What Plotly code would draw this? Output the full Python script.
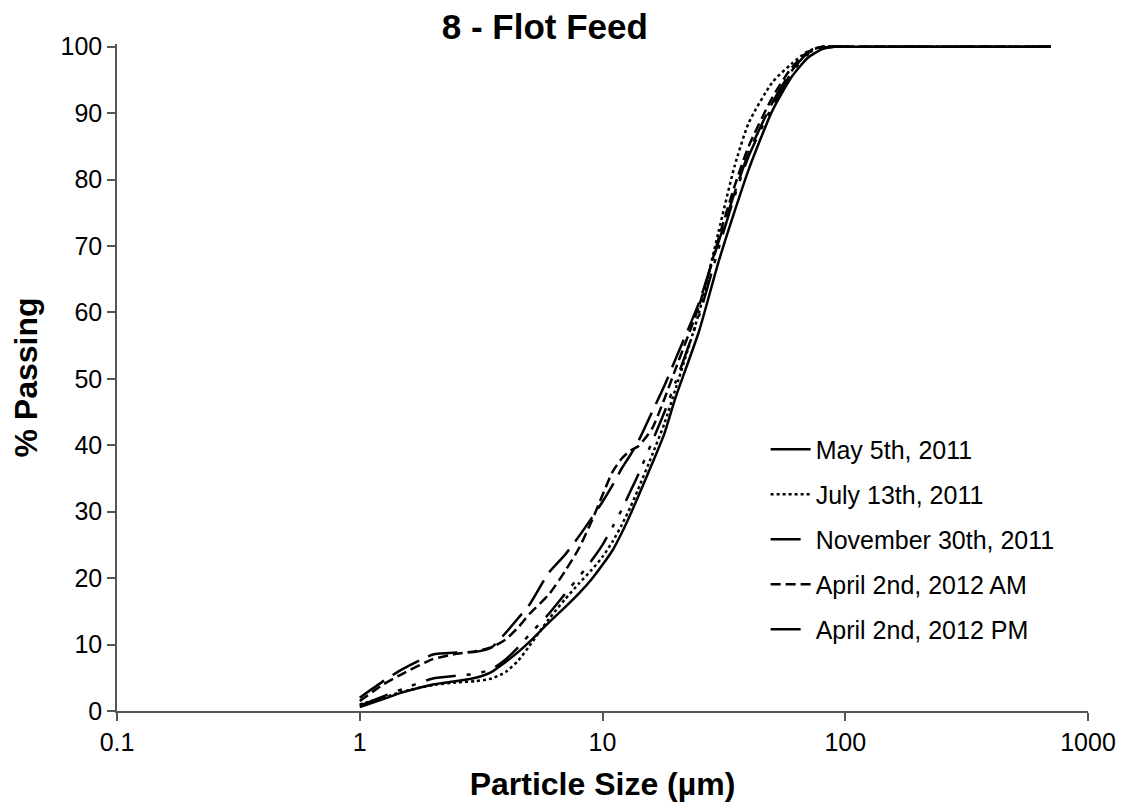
import plotly.graph_objects as go

# ---- data ----
sizes = [1, 1.25, 1.5, 2, 2.5, 3, 3.5, 4, 4.5, 5, 6, 7, 8, 9, 10, 11, 12, 13, 14,
         16, 18, 20, 25, 30, 35, 40, 50, 60, 70, 80, 90, 100, 200, 400, 704]

may_2011 = [0.6, 1.8, 2.8, 4.0, 4.5, 5.0, 5.9, 7.4, 8.9, 10.4, 13.3, 15.6, 17.7, 19.8, 22.0,
            24.2, 26.8, 29.5, 32.2, 37.2, 41.8, 47.2, 57.2, 67.5, 75.2, 81.5, 90.3, 95.4,
            98.3, 99.6, 100, 100, 100, 100, 100]
july_2011 = [1.0, 2.0, 2.9, 3.9, 4.3, 4.5, 4.9, 5.9, 7.6, 9.8, 13.8, 16.8, 19.2, 21.2, 23.2,
             25.5, 28.0, 30.6, 33.3, 38.5, 43.3, 48.5, 60.0, 72.0, 82.0, 88.5, 94.6, 97.4,
             99.3, 100, 100, 100, 100, 100, 100]
nov_2011 = [0.8, 2.2, 3.3, 4.9, 5.3, 5.6, 6.3, 7.8, 9.6, 11.5, 14.6, 17.6, 20.2, 22.6, 25.0,
            27.7, 30.3, 33.0, 35.5, 40.5, 45.0, 49.5, 59.5, 69.5, 77.5, 83.5, 91.0, 96.0,
            98.8, 99.8, 100, 100, 100, 100, 100]
apr_2012_am = [1.5, 4.0, 5.6, 7.8, 8.6, 9.0, 9.6, 10.8, 12.6, 14.6, 17.5, 21.0, 24.5, 28.5, 32.5,
               36.0, 38.0, 39.2, 39.8, 42.5, 47.0, 51.5, 61.0, 71.0, 79.0, 85.0, 92.3, 96.8,
               99.2, 100, 100, 100, 100, 100, 100]
apr_2012_pm = [2.0, 4.5, 6.3, 8.5, 8.8, 8.9, 9.6, 11.8, 14.0, 16.0, 20.8, 23.5, 26.3, 29.0, 31.5,
               34.0, 36.5, 38.5, 40.5, 45.0, 49.0, 53.0, 61.5, 70.5, 78.0, 84.0, 91.5, 96.3,
               99.0, 99.8, 100, 100, 100, 100, 100]

series_names = ["May 5th, 2011", "July 13th, 2011", "November 30th, 2011",
                "April 2nd, 2012 AM", "April 2nd, 2012 PM"]
series_values = [may_2011, july_2011, nov_2011, apr_2012_am, apr_2012_pm]
series_dash = ["solid", "3px,3px", "30px,11px,4px,11px,4px,11px", "10px,5px", "30px,10px"]

x_tickvals = [0.1, 1, 10, 100, 1000]
x_ticktext = ["0.1", "1", "10", "100", "1000"]
y_tickvals = [0, 10, 20, 30, 40, 50, 60, 70, 80, 90, 100]

FONT = "Liberation Sans, Arial, sans-serif"

fig = go.Figure()
for i, (name, vals, dash) in enumerate(zip(series_names, series_values, series_dash)):
    fig.add_trace(go.Scatter(
        x=sizes, y=vals, mode="lines", name=name,
        legendgroup=f"g{i}",
        line=dict(color="black", width=2.5, dash=dash, shape="spline", smoothing=0.6),
    ))

# the page body adds an 8px offset, so the figure is 8px smaller than the window
fig.update_layout(
    width=1123, height=800,
    paper_bgcolor="white", plot_bgcolor="white",
    margin=dict(l=109, r=43, t=36, b=97, autoexpand=False),
    font=dict(family=FONT, color="black"),
    title=dict(text="<b>8 - Flot Feed</b>", font=dict(size=35, family=FONT, color="black"),
               x=0.478, xref="container", xanchor="center",
               y=1 - 6 / 800, yref="container", yanchor="top", pad=dict(t=0, b=0)),
    showlegend=True,
    legend=dict(x=0.668, y=0.4265, xanchor="left", yanchor="top",
                bgcolor="rgba(0,0,0,0)", font=dict(size=25, family=FONT, color="black"),
                tracegroupgap=9.5, itemwidth=40),
    xaxis=dict(type="log", range=[-1, 3], tickvals=x_tickvals, ticktext=x_ticktext,
               automargin=False,
               showgrid=False, zeroline=False, showline=True, linecolor="#555", linewidth=1.5,
               ticks="outside", ticklen=8, tickcolor="#555", tickwidth=1.5,
               tickfont=dict(size=25, family=FONT, color="black"),
               title=dict(text="<b>Particle Size (µm)</b>", font=dict(size=32, family=FONT, color="black"),
                          standoff=18)),
    yaxis=dict(range=[0, 100.4], tickvals=y_tickvals,
               automargin=False,
               showgrid=False, zeroline=False, showline=True, linecolor="#555", linewidth=1.5,
               ticks="outside", ticklen=8, tickcolor="#555", tickwidth=1.5,
               tickfont=dict(size=25, family=FONT, color="black"),
               title=dict(text="<b>% Passing</b>", font=dict(size=32, family=FONT, color="black"),
                          standoff=14)),
)

fig.write_html("out.html")
